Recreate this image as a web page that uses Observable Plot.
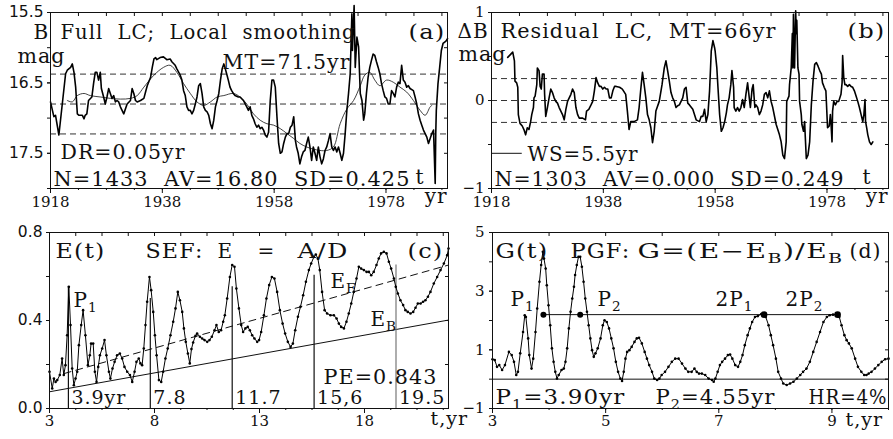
<!DOCTYPE html>
<html><head><meta charset="utf-8">
<script src="https://cdn.jsdelivr.net/npm/d3@7"></script>
<script src="https://cdn.jsdelivr.net/npm/@observablehq/plot@0.6"></script>
<style>
html,body{margin:0;padding:0;background:#fff;}
#wrap{position:relative;width:893px;height:439px;overflow:hidden;background:#fff;}
#wrap svg{position:absolute;overflow:visible;}
#wrap svg text{white-space:pre;}
#wrap g[aria-label="text"] text{letter-spacing:1px;}
</style></head><body><div id="wrap"></div>
<script>
// ---------- (a) full light curve, B mag ----------
const lcFull = [[1918.0,16.77],[1918.6,16.98],[1918.9,16.96],[1919.5,17.24],[1920.7,16.37],[1921.0,16.32],[1921.6,16.28],[1921.9,16.23],[1922.2,16.35],[1922.5,16.56],[1922.8,16.94],[1923.1,16.96],[1923.7,16.96],[1924.0,17.01],[1924.2,16.96],[1924.5,16.94],[1924.8,16.75],[1925.4,16.70],[1925.7,16.51],[1926.0,16.35],[1926.3,16.35],[1926.6,16.46],[1926.9,16.35],[1927.1,16.58],[1927.5,16.70],[1927.8,16.80],[1928.1,16.70],[1928.4,16.58],[1928.7,16.65],[1929.0,16.72],[1929.3,16.68],[1929.6,16.77],[1929.9,16.75],[1930.2,16.77],[1930.5,16.84],[1931.1,16.94],[1931.7,16.80],[1932.3,16.75],[1932.6,16.58],[1932.9,16.65],[1933.2,16.75],[1933.5,16.77],[1934.1,16.75],[1934.7,16.72],[1935.0,16.63],[1935.3,16.54],[1935.9,16.42],[1936.2,16.28],[1936.5,16.16],[1936.8,16.14],[1937.0,16.17],[1937.6,16.14],[1938.2,16.13],[1938.8,16.17],[1939.4,16.16],[1939.7,16.20],[1940.3,16.25],[1940.6,16.30],[1941.2,16.39],[1941.5,16.46],[1941.8,16.61],[1942.1,16.68],[1942.4,16.84],[1942.7,16.89],[1943.0,16.89],[1943.3,16.94],[1943.6,16.89],[1943.9,16.80],[1944.2,16.70],[1944.5,16.54],[1944.8,16.51],[1945.1,16.65],[1945.4,16.84],[1945.7,16.89],[1946.0,16.91],[1946.3,16.96],[1946.6,17.08],[1946.9,17.15],[1947.2,17.03],[1947.5,16.84],[1947.8,16.75],[1948.1,16.65],[1948.4,16.46],[1948.7,16.30],[1949.0,16.23],[1949.2,16.28],[1949.5,16.37],[1949.8,16.46],[1950.1,16.56],[1950.4,16.61],[1950.7,16.65],[1951.0,16.68],[1951.6,16.70],[1951.9,16.70],[1952.5,16.75],[1953.1,16.84],[1953.4,16.89],[1953.7,16.84],[1954.0,16.96],[1954.3,17.01],[1954.6,17.08],[1954.9,17.13],[1955.2,17.10],[1955.5,17.15],[1955.8,17.13],[1956.1,17.17],[1956.4,17.24],[1956.7,17.27],[1957.0,17.20],[1957.3,16.75],[1957.6,16.46],[1957.9,16.46],[1958.2,16.56],[1958.5,16.98],[1958.8,17.36],[1959.1,17.50],[1959.4,17.48],[1959.7,17.36],[1960.0,17.27],[1960.3,17.22],[1960.6,17.22],[1960.9,17.13],[1961.2,17.10],[1961.5,16.98],[1961.8,17.32],[1962.0,17.41],[1962.3,17.50],[1962.6,17.65],[1962.9,17.55],[1963.2,17.48],[1963.5,17.46],[1963.8,17.36],[1964.1,17.27],[1964.4,17.41],[1964.7,17.60],[1965.0,17.41],[1965.3,17.50],[1965.6,17.60],[1965.9,17.41],[1966.2,17.55],[1966.5,17.65],[1966.8,17.58],[1967.1,17.46],[1967.4,17.41],[1967.7,17.32],[1968.0,17.22],[1968.3,17.41],[1968.6,17.46],[1968.9,17.41],[1969.2,17.48],[1969.5,17.41],[1969.8,17.50],[1970.1,17.60],[1970.4,17.50],[1970.7,17.22],[1971.0,16.89],[1971.3,16.65],[1971.6,16.37],[1971.9,15.52],[1972.0,16.04],[1972.3,15.40],[1972.5,16.28],[1972.8,15.85],[1973.1,15.99],[1973.4,16.65],[1973.7,16.75],[1974.0,17.03],[1974.2,16.94],[1974.5,16.65],[1974.8,16.42],[1975.1,16.28],[1975.4,16.18],[1975.7,16.09],[1976.0,16.11],[1976.3,16.20],[1976.6,16.28],[1976.9,16.37],[1977.2,16.51],[1977.5,16.61],[1977.8,16.70],[1978.1,16.72],[1978.4,16.80],[1978.7,16.80],[1979.0,16.61],[1979.3,16.65],[1979.6,16.70],[1979.9,16.56],[1980.2,16.49],[1980.5,16.51],[1980.8,16.25],[1981.1,16.46],[1981.4,16.49],[1981.7,16.56],[1982.0,16.54],[1982.3,16.58],[1982.9,16.61],[1983.2,16.70],[1983.5,16.80],[1983.8,16.94],[1984.1,17.03],[1984.4,17.10],[1984.7,17.17],[1985.0,17.22],[1985.3,17.27],[1985.6,17.36],[1985.9,17.29],[1986.2,17.22],[1986.5,17.17],[1986.8,17.93],[1986.9,17.22],[1987.0,16.89],[1987.3,16.51],[1987.6,16.28],[1987.9,16.04],[1988.2,15.94],[1988.5,15.92],[1988.8,15.90],[1989.0,15.87]];
const lcSmooth = [[1921.0,16.75],[1921.9,16.77],[1922.8,16.68],[1924.0,16.65],[1925.1,16.68],[1926.9,16.70],[1928.7,16.72],[1930.5,16.73],[1932.3,16.72],[1933.5,16.68],[1934.7,16.56],[1936.5,16.39],[1938.2,16.28],[1939.4,16.25],[1940.6,16.35],[1941.8,16.51],[1943.0,16.65],[1944.2,16.77],[1945.4,16.82],[1946.6,16.77],[1947.8,16.70],[1949.0,16.68],[1950.7,16.65],[1951.9,16.70],[1953.1,16.80],[1954.3,16.94],[1955.5,17.03],[1956.7,17.08],[1957.9,17.10],[1959.1,17.15],[1960.3,17.22],[1961.5,17.29],[1962.6,17.36],[1963.8,17.41],[1965.0,17.44],[1966.2,17.46],[1967.4,17.46],[1968.6,17.41],[1969.8,17.08],[1971.0,16.87],[1972.2,16.75],[1973.4,16.54],[1974.2,16.39],[1975.1,16.35],[1976.0,16.46],[1976.9,16.54],[1978.1,16.46],[1979.3,16.49],[1980.5,16.56],[1981.7,16.63],[1982.9,16.75],[1984.1,16.89],[1985.0,16.96],[1985.9,16.84],[1986.2,16.82]];
const lcAV = 16.80, lcSD = 0.425;

// ---------- (b) residual light curve ----------
const lcResid = [[1920.9,0.49],[1921.2,0.51],[1921.5,0.53],[1921.8,0.55],[1922.1,0.45],[1922.2,0.22],[1922.5,0.20],[1922.7,0.15],[1922.8,-0.16],[1923.1,-0.26],[1923.5,-0.29],[1923.8,-0.33],[1924.1,-0.39],[1924.4,-0.31],[1924.7,-0.33],[1925.0,-0.24],[1925.2,-0.16],[1925.5,-0.08],[1925.6,0.03],[1925.8,0.05],[1926.1,0.18],[1926.2,0.37],[1926.5,0.34],[1926.7,0.16],[1926.9,0.13],[1927.1,0.30],[1927.4,0.30],[1927.5,0.07],[1927.7,-0.18],[1928.0,-0.08],[1928.3,0.03],[1928.6,0.13],[1928.9,0.09],[1929.2,0.03],[1929.5,-0.01],[1929.8,-0.03],[1930.1,-0.08],[1930.4,-0.12],[1930.7,-0.16],[1931.0,-0.22],[1931.3,-0.10],[1931.6,-0.01],[1931.9,0.03],[1932.2,0.07],[1932.5,0.13],[1932.8,0.09],[1933.1,-0.08],[1933.4,-0.16],[1933.7,-0.20],[1934.3,-0.20],[1934.8,-0.22],[1935.0,-0.12],[1935.4,-0.10],[1935.8,-0.05],[1936.1,-0.01],[1936.4,0.11],[1936.7,0.26],[1937.0,0.20],[1937.3,0.16],[1937.6,0.16],[1937.9,0.13],[1938.2,0.15],[1938.5,0.13],[1938.8,0.13],[1939.1,0.03],[1939.4,0.03],[1939.7,0.11],[1940.0,0.16],[1940.3,0.16],[1940.9,0.15],[1941.4,0.13],[1942.0,0.07],[1942.3,-0.12],[1942.6,-0.33],[1942.9,-0.24],[1943.5,-0.24],[1944.1,-0.22],[1944.4,-0.08],[1944.7,0.13],[1945.0,0.32],[1945.3,0.18],[1945.6,0.03],[1945.9,-0.16],[1946.2,-0.22],[1946.5,-0.31],[1946.8,-0.48],[1947.1,-0.35],[1947.4,-0.12],[1948.0,-0.01],[1948.5,0.18],[1948.9,0.37],[1949.2,0.45],[1949.5,0.34],[1949.8,0.22],[1950.1,0.09],[1950.4,0.03],[1950.7,-0.01],[1951.0,-0.08],[1951.3,-0.06],[1951.6,-0.05],[1951.9,-0.01],[1952.2,0.03],[1952.5,0.13],[1952.8,0.15],[1953.1,-0.03],[1953.4,-0.05],[1954.0,-0.10],[1954.3,-0.16],[1954.6,-0.22],[1955.2,-0.24],[1955.5,-0.18],[1955.8,-0.18],[1956.1,-0.10],[1956.4,-0.24],[1956.7,-0.16],[1957.0,0.11],[1957.3,0.56],[1957.6,0.68],[1957.9,0.60],[1958.0,0.56],[1958.3,0.37],[1958.5,0.15],[1958.8,-0.16],[1959.1,-0.35],[1959.4,-0.31],[1959.7,-0.24],[1960.0,-0.14],[1960.2,-0.05],[1960.5,0.03],[1960.8,0.18],[1961.0,0.34],[1961.3,0.15],[1961.4,-0.08],[1961.7,-0.12],[1962.0,-0.08],[1962.3,-0.12],[1962.6,-0.08],[1962.9,0.01],[1963.2,-0.08],[1963.5,0.07],[1963.8,0.20],[1964.1,0.03],[1964.3,-0.08],[1964.6,0.13],[1964.8,0.18],[1965.1,-0.08],[1965.3,-0.05],[1965.6,-0.08],[1965.9,-0.16],[1966.2,-0.12],[1966.5,-0.05],[1966.8,0.07],[1967.1,0.09],[1967.4,0.03],[1967.7,0.11],[1968.0,-0.01],[1968.3,-0.08],[1968.9,-0.27],[1969.5,-0.39],[1969.8,-0.47],[1970.1,-0.62],[1970.4,-0.66],[1970.7,-0.47],[1970.8,-0.01],[1971.2,0.05],[1971.3,0.18],[1971.6,0.37],[1971.8,0.76],[1971.9,0.37],[1972.0,0.98],[1972.2,0.37],[1972.4,1.02],[1972.5,0.76],[1972.6,0.91],[1972.8,0.37],[1973.0,0.30],[1973.1,-0.01],[1973.4,-0.16],[1973.5,-0.27],[1973.8,-0.35],[1974.0,-0.24],[1974.1,-0.39],[1974.3,-0.66],[1974.6,-0.62],[1974.9,-0.47],[1975.2,-0.05],[1975.5,0.22],[1975.8,0.41],[1976.1,0.43],[1976.4,0.39],[1976.7,0.34],[1977.0,0.30],[1977.2,0.20],[1977.5,0.15],[1977.8,0.11],[1978.1,-0.31],[1978.4,-0.29],[1978.6,-0.16],[1978.7,-0.24],[1978.9,-0.47],[1979.0,-0.12],[1979.2,-0.01],[1979.5,-0.05],[1979.8,-0.01],[1980.1,-0.01],[1980.5,0.07],[1980.7,0.20],[1980.8,0.51],[1981.0,0.26],[1981.2,0.18],[1981.4,0.18],[1981.7,0.16],[1982.0,0.18],[1982.3,0.16],[1982.6,0.15],[1982.9,0.11],[1983.2,0.05],[1983.5,-0.01],[1983.8,-0.08],[1984.1,-0.16],[1984.4,-0.24],[1984.6,-0.16],[1984.8,0.01],[1984.9,-0.24],[1985.1,-0.31],[1985.3,-0.39],[1985.6,-0.47],[1985.9,-0.50],[1986.2,-0.47]];
const residSD = 0.249;
const windowStart = 1918, windowSize = 5.5, windowLevel = -0.60;

// ---------- (c) SEF E(t) ----------
const sefE = [[3.00,0.167],[3.13,0.091],[3.21,0.136],[3.29,0.121],[3.37,0.129],[3.49,0.152],[3.60,0.227],[3.68,0.152],[3.76,0.197],[3.84,0.333],[3.92,0.553],[4.00,0.379],[4.08,0.182],[4.16,0.106],[4.24,0.136],[4.32,0.167],[4.40,0.288],[4.51,0.379],[4.60,0.447],[4.71,0.333],[4.83,0.197],[4.92,0.242],[4.98,0.295],[5.08,0.295],[5.16,0.167],[5.24,0.121],[5.32,0.189],[5.40,0.242],[5.51,0.273],[5.62,0.311],[5.71,0.242],[5.83,0.167],[5.90,0.136],[6.00,0.182],[6.10,0.212],[6.22,0.242],[6.35,0.250],[6.46,0.227],[6.57,0.189],[6.70,0.167],[6.83,0.152],[6.94,0.121],[7.05,0.167],[7.14,0.212],[7.25,0.227],[7.33,0.205],[7.41,0.197],[7.49,0.273],[7.57,0.379],[7.65,0.485],[7.76,0.598],[7.84,0.538],[7.94,0.439],[8.02,0.333],[8.10,0.242],[8.21,0.129],[8.32,0.121],[8.41,0.167],[8.52,0.227],[8.63,0.273],[8.76,0.333],[8.89,0.394],[9.00,0.455],[9.11,0.530],[9.21,0.492],[9.32,0.439],[9.40,0.364],[9.49,0.303],[9.59,0.250],[9.68,0.205],[9.76,0.270],[9.84,0.300],[9.95,0.330],[10.03,0.341],[10.16,0.326],[10.27,0.318],[10.38,0.311],[10.51,0.303],[10.62,0.311],[10.73,0.326],[10.86,0.356],[10.95,0.379],[11.06,0.348],[11.17,0.356],[11.27,0.394],[11.35,0.424],[11.46,0.500],[11.59,0.598],[11.70,0.652],[11.81,0.644],[11.90,0.545],[12.02,0.455],[12.13,0.379],[12.22,0.348],[12.33,0.364],[12.44,0.371],[12.54,0.356],[12.65,0.333],[12.76,0.318],[12.89,0.303],[12.98,0.311],[13.08,0.348],[13.21,0.424],[13.33,0.500],[13.46,0.561],[13.59,0.598],[13.71,0.591],[13.84,0.530],[13.97,0.447],[14.10,0.386],[14.22,0.341],[14.35,0.303],[14.48,0.280],[14.59,0.295],[14.70,0.356],[14.83,0.417],[14.95,0.462],[15.08,0.515],[15.21,0.576],[15.35,0.629],[15.46,0.659],[15.59,0.689],[15.68,0.700],[15.78,0.682],[15.87,0.629],[15.98,0.530],[16.10,0.447],[16.22,0.432],[16.38,0.424],[16.54,0.424],[16.67,0.409],[16.78,0.386],[16.89,0.371],[17.02,0.364],[17.14,0.394],[17.25,0.432],[17.37,0.477],[17.49,0.530],[17.62,0.591],[17.73,0.644],[17.84,0.636],[17.97,0.629],[18.10,0.621],[18.21,0.621],[18.32,0.606],[18.44,0.621],[18.57,0.652],[18.68,0.682],[18.79,0.705],[18.92,0.712],[19.05,0.705],[19.16,0.667],[19.27,0.636],[19.40,0.591],[19.49,0.553],[19.59,0.523],[19.71,0.492],[19.84,0.470],[19.95,0.447],[20.06,0.439],[20.19,0.432],[20.32,0.439],[20.43,0.458],[20.54,0.477],[20.67,0.477],[20.79,0.485],[20.90,0.492],[21.02,0.508],[21.14,0.530],[21.30,0.568],[21.46,0.598],[21.62,0.629],[21.78,0.659],[21.94,0.697],[22.00,0.727]];
const sefEF = [[3.7,0.159],[22,0.652]];
const sefEB = [[3,0.076],[22,0.402]];
const sefPeaks = [3.9, 7.8, 11.7, 15.6, 19.5];
const sefPeakTop = [0.553, 0.50, 0.553, 0.606, 0.652];
const sefPeakLabels = ["3.9yr", "7.8", "11.7", "15,6", "19.5"];

// ---------- (d) PGF G(t) ----------
const pgfG = [[3.00,0.68],[3.04,0.65],[3.08,0.42],[3.12,0.48],[3.17,0.31],[3.22,0.48],[3.29,0.93],[3.34,0.82],[3.38,0.59],[3.42,0.14],[3.45,0.25],[3.49,0.88],[3.54,1.61],[3.57,2.18],[3.59,2.12],[3.63,1.39],[3.65,0.82],[3.69,0.36],[3.72,0.70],[3.76,1.61],[3.79,2.41],[3.83,3.32],[3.86,3.89],[3.89,4.34],[3.91,4.11],[3.94,3.77],[3.96,3.20],[3.99,2.52],[4.02,1.84],[4.05,1.05],[4.08,0.59],[4.11,0.25],[4.14,0.02],[4.17,0.14],[4.22,0.31],[4.26,0.36],[4.29,0.59],[4.32,1.05],[4.35,1.73],[4.38,2.30],[4.41,2.75],[4.44,3.15],[4.46,3.55],[4.49,3.89],[4.52,4.17],[4.55,4.17],[4.58,3.83],[4.61,3.32],[4.64,2.75],[4.67,2.30],[4.70,1.84],[4.73,1.39],[4.76,0.99],[4.79,0.76],[4.82,0.88],[4.86,1.05],[4.91,1.39],[4.95,1.84],[4.98,2.01],[5.02,1.95],[5.06,1.73],[5.10,1.39],[5.14,1.05],[5.18,0.59],[5.22,0.25],[5.26,0.02],[5.29,-0.06],[5.32,0.25],[5.35,0.70],[5.38,0.93],[5.42,0.99],[5.46,1.10],[5.51,1.27],[5.55,1.39],[5.59,1.41],[5.64,1.22],[5.69,0.93],[5.73,0.70],[5.77,0.48],[5.82,0.25],[5.86,0.02],[5.91,-0.03],[5.95,0.02],[5.99,0.14],[6.05,0.25],[6.11,0.42],[6.17,0.59],[6.23,0.70],[6.29,0.70],[6.35,0.53],[6.41,0.36],[6.46,0.25],[6.52,0.25],[6.57,0.36],[6.61,0.25],[6.65,0.19],[6.70,0.19],[6.76,0.14],[6.82,0.02],[6.88,-0.03],[6.91,-0.09],[6.94,0.02],[6.98,0.25],[7.02,0.48],[7.06,0.59],[7.11,0.70],[7.16,0.82],[7.20,0.84],[7.24,0.70],[7.29,0.48],[7.34,0.42],[7.38,0.59],[7.42,0.82],[7.46,1.16],[7.51,1.50],[7.55,1.73],[7.59,1.95],[7.64,2.12],[7.69,2.15],[7.75,2.22],[7.83,2.12],[7.88,1.84],[7.92,1.50],[7.96,1.16],[8.01,0.70],[8.05,0.25],[8.10,0.02],[8.14,-0.15],[8.20,-0.20],[8.26,-0.15],[8.32,-0.09],[8.38,0.02],[8.44,0.14],[8.49,0.25],[8.55,0.36],[8.61,0.59],[8.67,0.93],[8.73,1.27],[8.79,1.61],[8.85,1.95],[8.91,2.12],[8.96,2.18],[9.02,2.20],[9.08,2.20],[9.13,2.12],[9.17,1.84],[9.22,1.50],[9.26,1.33],[9.30,1.22],[9.35,1.05],[9.41,0.70],[9.46,0.42],[9.52,0.25],[9.57,0.14],[9.61,0.14],[9.65,0.19],[9.70,0.25],[9.76,0.36],[9.82,0.48],[9.88,0.59],[9.94,0.68],[10.00,0.70]];
const pgfPeriods = [3.90, 4.55, 7.80, 9.10];
const pgfLevel = 2.20;

// ---------- helpers ----------
const serif = "DejaVu Serif", sans = "DejaVu Sans";
const widths = new Map();
function note(str, dx, dy, o = {}) {
  if (o.w) widths.set(str, o.w);
  return Plot.text([str], {text: d => d, frameAnchor: "top-left", dx, dy,
    textAnchor: o.anchor || "start", lineAnchor: "bottom",
    fontSize: o.size || 20, fontFamily: serif, fill: "#111"});
}
const blank = () => "";
function frameAxes({xMajor, xMinor, yMajor, yMinor, yFmt, yFont, yPad = 4, xPad = 3}) {
  return [
    Plot.frame({stroke: "#111", strokeWidth: 1}),
    Plot.axisX({ticks: xMinor, anchor: "bottom", tickSize: 2, tickFormat: blank, label: null}),
    Plot.axisX({ticks: xMajor, anchor: "bottom", tickSize: 5, tickPadding: xPad, tickFormat: d => String(d), fontSize: 15, fontFamily: serif, label: null}),
    Plot.axisX({ticks: xMinor, anchor: "top", tickSize: -3, tickFormat: blank, label: null}),
    Plot.axisY({ticks: yMinor, anchor: "left", tickSize: 3, tickFormat: blank, label: null}),
    Plot.axisY({ticks: yMajor, anchor: "left", tickSize: 3, tickPadding: yPad, tickFormat: yFmt, fontSize: yFont === sans ? 15.5 : 15, fontFamily: yFont, label: null}),
    Plot.axisY({ticks: yMinor, anchor: "right", tickSize: -4, tickFormat: blank, label: null})
  ];
}
const baseStyle = {background: "transparent", overflow: "visible", color: "#111"};
const yearMajor = [1918, 1938, 1958, 1978];
const yearMinor = d3.range(1918, 1990, 5);

// ---------- panel (a) ----------
const A = Plot.plot({
  width: 460, height: 215, marginLeft: 50, marginRight: 13, marginTop: 12, marginBottom: 27,
  x: {domain: [1918, 1989], axis: null, label: null},
  y: {domain: [15.5, 18], reverse: true, axis: null, label: null},
  style: baseStyle,
  marks: [
    Plot.ruleY([lcAV - lcSD, lcAV, lcAV + lcSD], {stroke: "#333", strokeDasharray: "6,4", strokeWidth: 1}),
    Plot.line(lcSmooth, {x: d => d[0], y: d => d[1], stroke: "#111", strokeWidth: 0.8, curve: "catmull-rom"}),
    Plot.line(lcFull, {x: d => d[0], y: d => d[1], stroke: "#000", strokeWidth: 1.6}),
    ...frameAxes({xMajor: yearMajor, xMinor: yearMinor, yMajor: [15.5, 16.5, 17.5], yMinor: d3.range(15.5, 18.01, 0.5), yFmt: d3.format(".1f"), yFont: sans}),
    note("B", -17, 26),
    note("Full  LC;  Local  smoothing", 10, 26, {w: 295}),
    note("(a)", 395, 26, {anchor: "end", w: 37}),
    note("mag", -33, 50, {w: 48}),
    note("MT=71.5yr", 172, 56, {w: 128}),
    note("DR=0.05yr", 10, 146, {w: 125}),
    note("N=1433  AV=16.80  SD=0.425", 3, 173, {w: 357}),
    note("t", 365, 171),
    note("yr", 397, 190, {anchor: "end"})
  ]
});

// ---------- panel (b) ----------
const B = Plot.plot({
  width: 453, height: 215, marginLeft: 51, marginRight: 5, marginTop: 12, marginBottom: 27,
  x: {domain: [1918, 1989], axis: null, label: null},
  y: {domain: [-1, 1], axis: null, label: null},
  style: baseStyle,
  marks: [
    Plot.ruleY([-residSD, 0, residSD], {stroke: "#333", strokeDasharray: "6,4", strokeWidth: 1}),
    Plot.ruleY([windowLevel], {x1: windowStart, x2: windowStart + windowSize, stroke: "#111", strokeWidth: 1}),
    Plot.line(lcResid, {x: d => d[0], y: d => d[1], stroke: "#000", strokeWidth: 1.6}),
    ...frameAxes({xMajor: yearMajor, xMinor: yearMinor, yMajor: [1, 0, -1], yMinor: [-1, -0.5, 0, 0.5, 1], yFmt: d => d === 0 ? "0" : (d < 0 ? "−" : "") + Math.abs(d), yFont: serif}),
    note("ΔB", -34, 25),
    note("Residual  LC,  MT=66yr", 9, 25, {w: 276}),
    note("(b)", 394, 25, {anchor: "end", w: 38}),
    note("mag", -33, 48, {w: 48}),
    note("WS=5.5yr", 36, 148, {w: 111}),
    note("N=1303  AV=0.000  SD=0.249", 3, 173, {w: 350}),
    note("t", 371, 171),
    note("yr", 397, 190, {anchor: "end"})
  ]
});

// ---------- panel (c) ----------
const C = Plot.plot({
  width: 460, height: 224, marginLeft: 49, marginRight: 12, marginTop: 17, marginBottom: 31,
  x: {domain: [3, 22], axis: null, label: null},
  y: {domain: [0, 0.8], axis: null, label: null},
  style: baseStyle,
  marks: [
    Plot.line(sefEF, {x: d => d[0], y: d => d[1], stroke: "#111", strokeDasharray: "7,5", strokeWidth: 1}),
    Plot.line(sefEB, {x: d => d[0], y: d => d[1], stroke: "#111", strokeWidth: 1}),
    Plot.ruleX(sefPeaks, {x: d => d, y1: 0, y2: (d, i) => sefPeakTop[i], stroke: (d, i) => i === 4 ? "#777" : "#111", strokeWidth: 1.2}),
    Plot.line(sefE, {x: d => d[0], y: d => d[1], stroke: "#000", strokeWidth: 1}),
    Plot.dot(sefE, {x: d => d[0], y: d => d[1], r: 1.3, fill: "#000"}),
    Plot.text(sefPeaks, {x: d => d, y: 0, text: (d, i) => sefPeakLabels[i], dx: 3, dy: -5, textAnchor: "start", lineAnchor: "bottom", fontSize: 19, fontFamily: serif, fill: "#111"}),
    ...frameAxes({xMajor: [3, 8, 13, 18], xMinor: d3.range(3, 22.01, 1.25), yMajor: [0, 0.4, 0.8], yMinor: [0, 0.2, 0.4, 0.6, 0.8], yFmt: d3.format(".1f"), yFont: sans, xPad: 2}),
    note("E(t)", 6, 25, {w: 50}),
    note("SEF:", 96, 25, {w: 58}),
    note("E", 168, 25),
    note("=", 208, 25),
    note("A/D", 248, 25, {w: 51}),
    note("(c)", 394, 25, {anchor: "end", w: 36}),
    note("P_{1}", 24, 74),
    note("E_{F}", 281, 55),
    note("E_{B}", 321, 93),
    note("PE=0.843", 274, 151, {w: 114}),
    note("t,yr", 381, 192, {size: 19})
  ]
});

// ---------- panel (d) ----------
const D = Plot.plot({
  width: 453, height: 224, marginLeft: 52, marginRight: 5, marginTop: 17, marginBottom: 31,
  x: {domain: [3, 10], axis: null, label: null},
  y: {domain: [-1, 5], axis: null, label: null},
  style: baseStyle,
  marks: [
    Plot.ruleY([0], {stroke: "#111", strokeWidth: 1}),
    Plot.ruleY([pgfLevel], {x1: pgfPeriods[0], x2: pgfPeriods[3], stroke: "#111", strokeWidth: 1}),
    Plot.line(pgfG, {x: d => d[0], y: d => d[1], stroke: "#000", strokeWidth: 1}),
    Plot.dot(pgfG, {x: d => d[0], y: d => d[1], r: 1.3, fill: "#000"}),
    Plot.dot(pgfPeriods, {x: d => d, y: pgfLevel, r: (d, i) => i < 2 ? 2.6 : 3.2, fill: "#000"}),
    ...frameAxes({xMajor: [3, 5, 7, 9], xMinor: d3.range(3, 10.01, 1), yMajor: [5, 3, 1, -1], yMinor: d3.range(-1, 5.01, 1), yFmt: d => (d < 0 ? "−" : "") + Math.abs(d), yFont: serif, yPad: 5, xPad: 2}),
    note("G(t)", 3, 25, {w: 53}),
    note("PGF:", 78, 25, {w: 60}),
    note("G=(E−E_{B})/E_{B}", 145, 25, {w: 206}),
    note("(d)", 389, 25, {anchor: "end", w: 32}),
    note("P_{1}", 18, 73),
    note("P_{2}", 105, 73),
    note("2P_{1}", 223, 73),
    note("2P_{2}", 293, 73),
    note("P_{1}=3.90yr", 3, 171, {w: 130}),
    note("P_{2}=4.55yr", 163, 171, {w: 120}),
    note("HR=4%", 395, 171, {anchor: "end", w: 79}),
    note("t,yr", 353, 193, {size: 19})
  ]
});

// ---------- assemble ----------
const wrap = document.getElementById("wrap");
const place = [[A, 0, 0], [C, 0, 215], [B, 440, 0], [D, 440, 215]];
const NS = "http://www.w3.org/2000/svg";
function subify(el) {
  const s = el.textContent;
  if (!s.includes("_{")) return;
  const fs = parseFloat(el.getAttribute("font-size") || el.parentNode.getAttribute("font-size") || 20);
  const shift = fs * 0.28;
  const parts = s.split(/(_\{[^}]*\})/).filter(p => p);
  el.textContent = "";
  let down = false;
  for (const p of parts) {
    const ts = document.createElementNS(NS, "tspan");
    if (p.startsWith("_{")) {
      ts.textContent = p.slice(2, -1);
      ts.setAttribute("font-size", (fs * 0.68).toFixed(1));
      ts.setAttribute("dy", shift.toFixed(1));
      down = true;
    } else {
      ts.textContent = p;
      if (down) { ts.setAttribute("dy", (-shift).toFixed(1)); down = false; }
    }
    el.appendChild(ts);
  }
}
for (const [svg, left, top] of place) {
  svg.style.left = left + "px";
  svg.style.top = top + "px";
  svg.querySelectorAll("text").forEach(el => {
    const s = el.textContent;
    if (widths.has(s)) { el.setAttribute("textLength", widths.get(s)); el.setAttribute("lengthAdjust", "spacingAndGlyphs"); }
    subify(el);
  });
  wrap.appendChild(svg);
}
</script></body></html>
